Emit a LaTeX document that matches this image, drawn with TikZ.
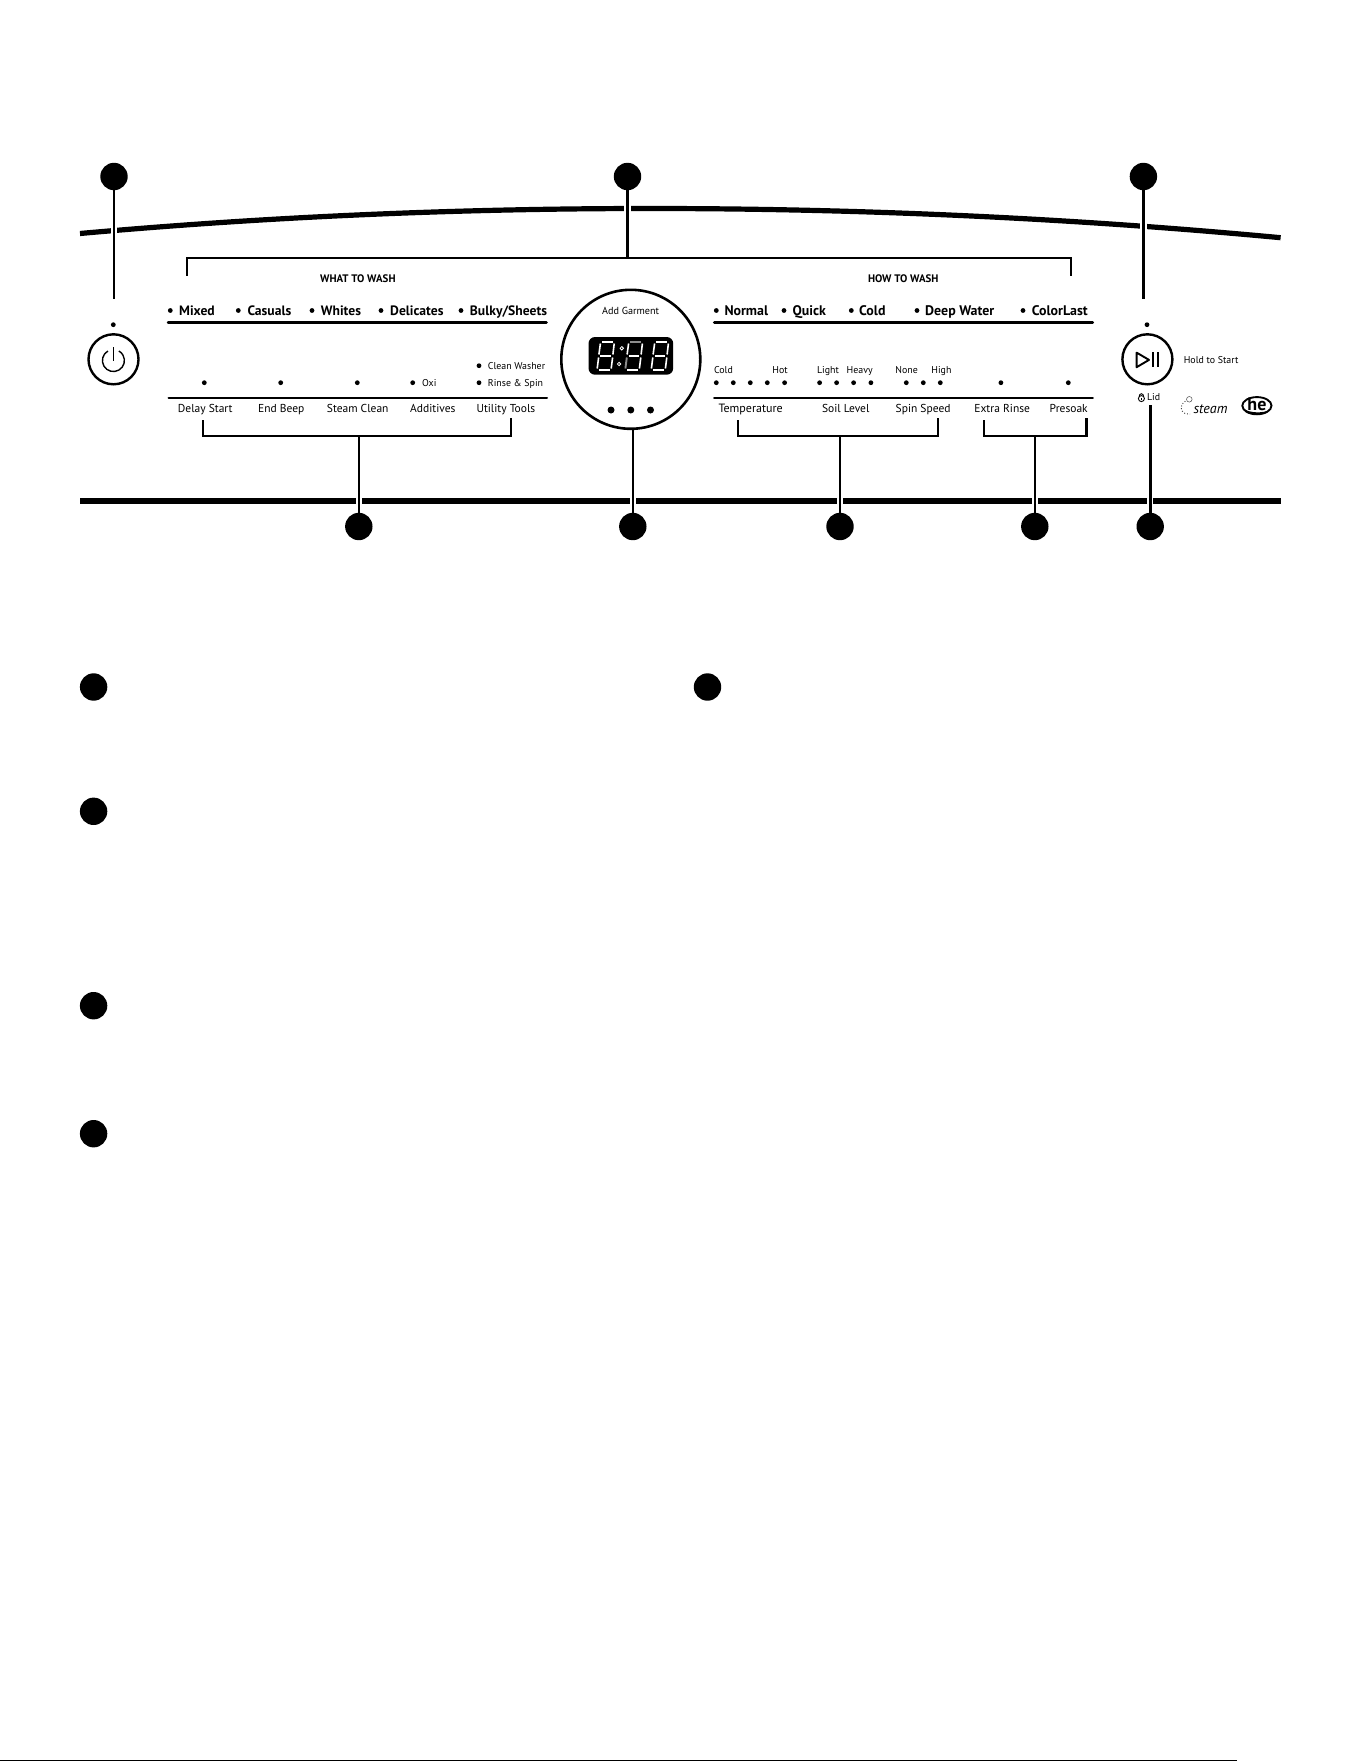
\documentclass[tikz,border=0pt]{standalone}
\usepackage{fontspec}
\setmainfont{PT Sans}
\usetikzlibrary{calc}
\definecolor{seggray}{gray}{0.55}
\tikzset{
  x=1pt,y=-1pt,
  callout/.style={circle,fill=black,draw=none,minimum size=27.4pt,inner sep=0pt},
  leader/.style={line width=2.5pt,black},
  bracket/.style={line width=2.4pt,black,line join=miter},
  thinbracket/.style={line width=1.9pt,black,line join=miter},
  bar/.style={line width=5.2pt,black},
  gap/.style={line width=6.5pt,white},
  rulea/.style={line width=2.5pt,line cap=round,black},
  ruleb/.style={line width=2pt,line cap=round,black},
  led/.style={circle,fill=black,inner sep=0pt,minimum size=4.8pt},
  bigled/.style={circle,fill=black,inner sep=0pt,minimum size=7pt},
  btn/.style={circle,draw=black,line width=2.4pt,fill=white,inner sep=0pt,minimum size=50pt},
  icon/.style={line width=1.9pt,black},
  pwr/.style={line width=1.4pt,black},
  boldlab/.style={anchor=base west,inner sep=0pt,font=\fontsize{13.6}{14}\selectfont\bfseries},
  boldlabr/.style={anchor=base west,inner sep=0pt,font=\fontsize{13.9}{14}\selectfont\bfseries},
  headlab/.style={anchor=base west,inner sep=0pt,font=\fontsize{10.9}{12}\selectfont\bfseries},
  midlab/.style={anchor=base west,inner sep=0pt,font=\fontsize{11.5}{14}\selectfont},
  smalllab/.style={anchor=base west,inner sep=0pt,font=\fontsize{9.9}{12}\selectfont},
  seg/.style={line width=1.6pt,white},
  seggr/.style={line width=1.9pt,seggray},
}
\newcommand{\sevenseg}[4]{%
  \begin{scope}[shift={(#1,370)}]
    \draw[#2] (5,-28)--(16,-28);
    \draw[seg] (17,-26.5)--(15.7,-15.5);
    \draw[seg] (15.4,-12.5)--(14,-1.5);
    \draw[seg] (2,0)--(12.5,0);
    \draw[#3] (0,-1.5)--(1.4,-12.5);
    \draw[seg] (1.7,-15.5)--(3.2,-26.5);
    \draw[#4] (3.2,-14)--(14,-14);
  \end{scope}}
\begin{document}
\begin{tikzpicture}
\useasboundingbox (0,0) rectangle (1361,1761);
\fill[white] (0,0) rectangle (1361,1761);

% console outline
\draw[bar] (80,233.5) .. controls (270,216.5) and (460,208.5) .. (650,208.5)
           .. controls (860,208.5) and (1070,218) .. (1280.6,237.7);
\draw[line width=5.3pt,black] (80,501) -- (1280.6,501);
\draw[line width=1pt,black] (0,1760.5) -- (1237,1760.5);

% gaps in the outline
\draw[gap] (114,225) -- (114,240);
\draw[gap] (627.5,202) -- (627.5,214);
\draw[gap] (1143.4,214) -- (1143.4,230);
\draw[gap] (359,496) -- (359,506);
\draw[gap] (632.8,496) -- (632.8,506);
\draw[gap] (840,496) -- (840,506);
\draw[gap] (1034.8,496) -- (1034.8,506);
\draw[gap] (1150.2,496) -- (1150.2,506);

% callouts
\node[callout] (c1) at (114,176.5) {};
\node[callout] (c2) at (627.5,176.5) {};
\node[callout] (c3) at (1143.4,176.5) {};
\node[callout] (c4) at (358.8,526.5) {};
\node[callout] (c5) at (632.8,526.5) {};
\node[callout] (c6) at (840,526.5) {};
\node[callout] (c7) at (1034.8,526.5) {};
\node[callout] (c8) at (1150.2,526.5) {};
\node[callout] (k1) at (93.6,687) {};
\node[callout] (k2) at (707.5,687) {};
\node[callout] (k3) at (93.6,811.3) {};
\node[callout] (k4) at (93.6,1005.7) {};
\node[callout] (k5) at (93.6,1133.7) {};

% buttons
\node[btn] (power) at (113.5,359.3) {};
\node[btn] (play) at (1147.4,359.3) {};
\node[btn,minimum size=139pt,line width=2.6pt] (dial) at (630.8,359.3) {};
\node[led] (pled) at (113.3,324.7) {};
\node[led] (sled) at (1147,324.7) {};
\draw[pwr] (107.9,351) arc[start angle=120,end angle=420,x radius=11,y radius=-11];
\draw[pwr] (113.4,347.3) -- (113.4,361);
\draw[icon,line join=round] (1136.6,352.6) -- (1136.6,367.2) -- (1149,359.9) -- cycle;
\draw[icon] (1153,352) -- (1153,367.4);
\draw[icon] (1158,352) -- (1158,367.4);

% leaders
\coordinate (a1) at (114,298.7);
\coordinate (a2) at (627.5,257.7);
\coordinate (a3) at (1143.4,298.7);
\coordinate (a4) at (358.8,436);
\coordinate (a5) at (632.8,427.5);
\coordinate (a6) at (840,436);
\coordinate (a7) at (1034.8,435.7);
\coordinate (a8) at (1150.2,405);
\draw[leader] (c1) -- (a1);
\draw[leader] (c2) -- (a2);
\draw[leader] (c3) -- (a3);
\draw[leader] (c4) -- (a4);
\draw[leader] (c5) -- (a5);
\draw[leader] (c6) -- (a6);
\draw[leader] (c7) -- (a7);
\draw[line width=3.2pt,black] (c8) -- (a8);

% brackets
\coordinate (bt1) at (187,275.7); \coordinate (bt2) at (1070.8,275.7);
\draw[thinbracket] (bt1) |- (bt2 |- a2) -- (bt2);
\coordinate (bl1) at (203,420); \coordinate (bl2) at (511,418);
\draw[bracket] (bl1) |- (bl2 |- a4) -- (bl2);
\coordinate (bm1) at (738,420); \coordinate (bm2) at (937.7,418);
\draw[bracket] (bm1) |- (bm2 |- a6) -- (bm2);
\coordinate (br1) at (983.6,420); \coordinate (br2) at (1086.3,418);
\draw[thinbracket] (br1) |- (br2 |- a7);
\draw[bracket] (br1 |- a7) -- (br2 |- a7) -- (br2);

% rules
\draw[rulea] (168,322.7) -- (546.5,322.7);
\draw[ruleb] (168.5,398.3) -- (547,398.3);
\draw[rulea] (714.2,322.7) -- (1092.8,322.7);
\draw[ruleb] (714.2,398.3) -- (1092.8,398.3);

% headings
\node[headlab] (h1) at (320,282.7) {WHAT TO WASH};
\node[headlab] (h2) at (867.9,282.7) {HOW TO WASH};

% top rows
\foreach \x/\t/\n in {179/Mixed/ta,247.3/Casuals/tb,320.7/Whites/tc,390/Delicates/td,469.7/Bulky\slash Sheets/te}
  \node[boldlab] (\n) at (\x,315) {\t};
\foreach \x/\t/\n in {724.3/Normal/tf,792.3/Quick/tg,859/Cold/th,925/Deep Water/ti,1031.7/ColorLast/tj}
  \node[boldlabr] (\n) at (\x,315) {\t};
\foreach \x/\n in {170.3/d1,238.3/d2,312/d3,381/d4,461/d5,716.3/d6,784/d7,851.3/d8,917/d9,1023/d10}
  \node[led] (\n) at (\x,310.5) {};

% lower row
\foreach \x/\t/\n in {177.7/Delay Start/la,258/End Beep/lb,326.7/Steam Clean/lc,410/Additives/ld,476.3/Utility Tools/le,
    821.9/Soil Level/lg,895.5/Spin Speed/lh,974.2/Extra Rinse/li,1049.5/Presoak/lj}
  \node[midlab] (\n) at (\x,412.7) {\t};
\node[midlab,font=\fontsize{12}{14}\selectfont] (lf) at (718.3,412.7) {Temperature};
\foreach \x/\n in {204.3/e1,280.7/e2,357.3/e3,412.7/e4,479/e5,716.3/e6,733.3/e7,750.3/e8,767.3/e9,784.6/e10,
    819.6/e11,836.6/e12,853.6/e13,870.9/e14,906.3/e15,923.3/e16,940.3/e17,1000.9/e18,1068.3/e19}
  \node[led] (\n) at (\x,382.7) {};
\node[led] (e20) at (479,365.7) {};

% small labels
\node[smalllab] (s1) at (422,386.3) {Oxi};
\node[smalllab] (s2) at (487.7,369.3) {Clean Washer};
\node[smalllab] (s3) at (487.7,386.3) {Rinse \& Spin};
\foreach \x/\t/\n in {713.8/Cold/r1,772.2/Hot/r2,816.8/Light/r3,846.5/Heavy/r4,895.2/None/r5,931.2/High/r6}
  \node[smalllab] (\n) at (\x,373.3) {\t};
\node[smalllab,font=\fontsize{10.2}{12}\selectfont] (s4) at (602,314) {Add Garment};
\node[smalllab] (s5) at (1183.6,363.7) {Hold to Start};
\node[smalllab] (s6) at (1146.8,400.3) {Lid};

% dial
\node[bigled] (g1) at (611,410) {};
\node[bigled] (g2) at (630.8,410) {};
\node[bigled] (g3) at (650.5,410) {};
\fill[black,rounded corners=6.5pt] (588.5,337) rectangle (673.2,374.7);
\sevenseg{597.2}{seg}{seg}{seg}
\sevenseg{625.4}{seggr}{seggr}{seg}
\sevenseg{651.4}{seg}{seg}{seg}
\draw[white,line width=.8pt] (621.8,348.3) circle[radius=1.7];
\draw[white,line width=.8pt] (619.1,364) circle[radius=1.7];

% lock
\draw[black,line width=.9pt] (1141.4,398.6) circle[radius=3];
\draw[black,line width=.9pt] (1139.2,396.5) arc[start angle=180,end angle=0,x radius=2.2,y radius=-2.8];
\fill[black] (1141.4,397.6) rectangle (1142.1,400.2);

% steam mark
\draw[black!70,line width=.5pt] (1189.3,399.3) circle[radius=2.8];
\draw[black!80,line width=.9pt,dotted] (1185.4,401.2) .. controls (1180,404) and (1179.5,411) .. (1185,413.5) -- (1190,414.2);
\node[anchor=base west,inner sep=0pt,font=\fontsize{14}{16}\selectfont\itshape] (st) at (1193.3,413) {steam};

% he mark
\draw[black,line width=1.9pt] (1256.9,405.7) ellipse[x radius=14.6,y radius=8.6];
\fill[black] (1244,409) .. controls (1248,416) and (1262,417) .. (1270,410) .. controls (1262,413.5) and (1250,413) .. (1244,409) -- cycle;
\node[inner sep=0pt,font=\fontsize{18}{18}\selectfont\bfseries] (he) at (1256.9,404.2) {he};
\end{tikzpicture}
\end{document}
